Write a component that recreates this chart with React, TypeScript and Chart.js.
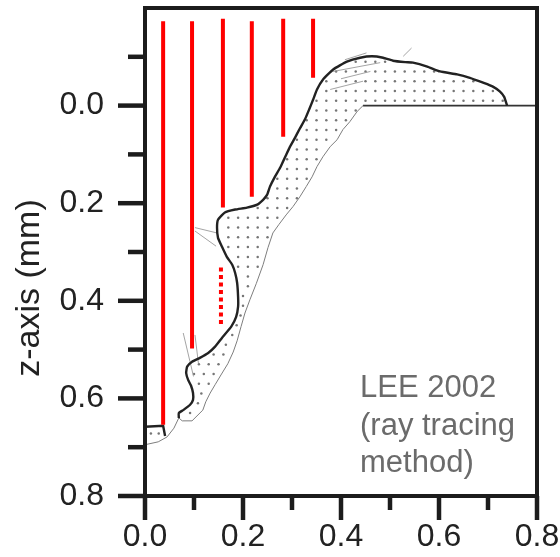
import { useEffect, useRef } from 'react';
import { Chart, registerables } from 'chart.js';

Chart.register(...registerables);

const FONT = '"Liberation Sans", Arial, Helvetica, sans-serif';

// ---- text ----
const xTickLabels = ['0.0', '0.2', '0.4', '0.6', '0.8'];
const yTickLabels = ['0.0', '0.2', '0.4', '0.6', '0.8'];
const yTitle = 'z-axis (mm)';
const noteLines = ['LEE 2002', '(ray tracing', 'method)'];

// ---- red rays (x in mm, z in mm) ----
const rayX = [0.037, 0.096, 0.159, 0.218, 0.282, 0.343];
const rayTop = [-0.173, -0.173, -0.178, -0.173, -0.178, -0.178];
const rayBottom = [0.654, 0.498, 0.209, 0.187, 0.064, -0.057];
const dottedRayX = [0.155];
const dottedRayTop = [0.332];
const dottedRayBottom = [0.449];

// ---- thick surface profile ----
const surfaceX = [
  0.069, 0.069, 0.078, 0.092, 0.098, 0.098, 0.094, 0.088, 0.084, 0.086, 0.096, 0.112,
  0.129, 0.143, 0.157, 0.176, 0.186, 0.19, 0.19, 0.188, 0.184, 0.178, 0.167, 0.157,
  0.149, 0.147, 0.149, 0.163, 0.184, 0.208, 0.229, 0.241, 0.249, 0.255, 0.265, 0.276,
  0.288, 0.296, 0.306, 0.316, 0.327, 0.335, 0.343, 0.351, 0.363, 0.384, 0.412, 0.439,
  0.463, 0.486, 0.506, 0.531, 0.547, 0.576, 0.602, 0.637, 0.663, 0.69, 0.71, 0.724,
  0.733, 0.737, 0.739,
];
const surfaceZ = [
  0.64, 0.63, 0.624, 0.613, 0.603, 0.589, 0.574, 0.562, 0.548, 0.535, 0.525, 0.517,
  0.507, 0.494, 0.476, 0.453, 0.433, 0.412, 0.392, 0.363, 0.343, 0.326, 0.31, 0.289,
  0.271, 0.25, 0.234, 0.219, 0.213, 0.209, 0.203, 0.193, 0.183, 0.166, 0.146, 0.127,
  0.101, 0.084, 0.066, 0.047, 0.027, 0.008, -0.012, -0.033, -0.053, -0.074, -0.09, -0.098,
  -0.101, -0.098, -0.092, -0.089, -0.088, -0.08, -0.07, -0.064, -0.057, -0.047, -0.039, -0.029,
  -0.018, -0.006, 0.0,
];

// ---- thin lower boundary ----
const lowerX = [
  0.445, 0.433, 0.418, 0.404, 0.392, 0.378, 0.363, 0.351, 0.341, 0.329, 0.316, 0.302,
  0.288, 0.273, 0.261, 0.251, 0.241, 0.227, 0.214, 0.204, 0.196, 0.188, 0.18, 0.169,
  0.155, 0.143, 0.133, 0.124, 0.118, 0.096, 0.076, 0.069, 0.059, 0.045, 0.027, 0.0,
];
const lowerZ = [
  0.0, 0.012, 0.033, 0.049, 0.07, 0.084, 0.105, 0.125, 0.146, 0.166, 0.187, 0.207,
  0.224, 0.244, 0.261, 0.291, 0.326, 0.365, 0.398, 0.425, 0.453, 0.482, 0.505, 0.529,
  0.552, 0.572, 0.589, 0.607, 0.624, 0.646, 0.646, 0.64, 0.661, 0.679, 0.689, 0.695,
];

// ---- small cap at the bottom-left ----
const capX = [0.0, 0.037, 0.041];
const capZ = [0.658, 0.656, 0.677];

// ---- flat substrate line (z = 0) ----
const baseX = [0.445, 0.8];
const baseZ = [0.0, 0.0];

// ---- velocity-field dots ----
const fieldZ = [
  -0.09, -0.07, -0.05, -0.03, -0.01, 0.01, 0.03, 0.05, 0.07, 0.09, 0.11, 0.13, 0.15,
  0.17, 0.19, 0.21, 0.23, 0.25, 0.27, 0.29, 0.31, 0.33, 0.35, 0.37, 0.39, 0.41, 0.43,
  0.45, 0.47, 0.49, 0.51, 0.53, 0.55, 0.57, 0.59, 0.61, 0.63, 0.672,
];
const fieldX = [
  [0.43, 0.45, 0.47, 0.49],
  [0.39, 0.41, 0.43, 0.45, 0.47, 0.49, 0.51, 0.53, 0.55, 0.57, 0.59],
  [0.37, 0.39, 0.41, 0.43, 0.45, 0.47, 0.49, 0.51, 0.53, 0.55, 0.57, 0.59, 0.61, 0.63, 0.65, 0.67],
  [0.37, 0.39, 0.41, 0.43, 0.45, 0.47, 0.49, 0.51, 0.53, 0.55, 0.57, 0.59, 0.61, 0.63, 0.65, 0.67, 0.69, 0.71],
  [0.35, 0.37, 0.39, 0.41, 0.43, 0.45, 0.47, 0.49, 0.51, 0.53, 0.55, 0.57, 0.59, 0.61, 0.63, 0.65, 0.67, 0.69, 0.71, 0.73],
  [0.35, 0.37, 0.39, 0.41, 0.43],
  [0.33, 0.35, 0.37, 0.39, 0.41],
  [0.33, 0.35, 0.37, 0.39],
  [0.31, 0.33, 0.35, 0.37],
  [0.31, 0.33, 0.35],
  [0.29, 0.31, 0.33, 0.35],
  [0.29, 0.31, 0.33],
  [0.27, 0.29, 0.31, 0.33],
  [0.27, 0.29, 0.31],
  [0.25, 0.27, 0.29, 0.31],
  [0.23, 0.25, 0.27, 0.29],
  [0.17, 0.19, 0.21, 0.23, 0.25, 0.27],
  [0.17, 0.19, 0.21, 0.23, 0.25],
  [0.17, 0.19, 0.21, 0.23, 0.25],
  [0.17, 0.19, 0.21, 0.23],
  [0.19, 0.21, 0.23],
  [0.19, 0.21, 0.23],
  [0.21],
  [0.21],
  [0.2],
  [0.2],
  [0.195],
  [0.187],
  [0.178],
  [0.165],
  [0.14, 0.16],
  [0.11, 0.13, 0.15],
  [0.1, 0.12, 0.14],
  [0.11, 0.13],
  [0.115],
  [0.108],
  [0.092],
  [0.012, 0.028],
];

// ---- longer field strokes ----
const strokeX1 = [0.102, 0.102, 0.078, 0.102, 0.408, 0.527, 0.384, 0.378, 0.4];
const strokeZ1 = [0.25, 0.257, 0.466, 0.47, -0.094, -0.101, -0.07, -0.033, -0.055];
const strokeX2 = [0.147, 0.145, 0.099, 0.109, 0.452, 0.544, 0.48, 0.445, 0.46];
const strokeZ2 = [0.261, 0.288, 0.555, 0.528, -0.108, -0.118, -0.088, -0.05, -0.07];

const tickLabel = (labels: string[]) => (value: number | string) => {
  const k = Math.round(Number(value) * 10);
  if (k >= 0 && k % 2 === 0 && labels[k / 2] !== undefined) return labels[k / 2];
  return '';
};

const framePlugin = {
  id: 'frameAndText',
  afterDatasetsDraw(chart: any) {
    const { ctx, chartArea: a, scales } = chart;
    ctx.save();
    ctx.strokeStyle = '#1c1c1c';
    ctx.lineWidth = 4;
    ctx.strokeRect(a.left, a.top, a.right - a.left, a.bottom - a.top);
    ctx.lineWidth = 4.5;
    ctx.lineCap = 'butt';
    scales.y.ticks.forEach((t: any) => {
      const k = Math.round(t.value * 10);
      if (k < -1) return;
      const p = scales.y.getPixelForValue(t.value);
      const len = k % 2 === 0 ? 27 : 17;
      ctx.beginPath();
      ctx.moveTo(a.left, p);
      ctx.lineTo(a.left - len, p);
      ctx.stroke();
    });
    scales.x.ticks.forEach((t: any) => {
      const k = Math.round(t.value * 10);
      const p = scales.x.getPixelForValue(t.value);
      const len = k % 2 === 0 ? 24 : 14;
      ctx.beginPath();
      ctx.moveTo(p, a.bottom);
      ctx.lineTo(p, a.bottom + len);
      ctx.stroke();
    });
    ctx.restore();
  },
  afterDraw(chart: any) {
    const { ctx } = chart;
    ctx.save();
    ctx.fillStyle = '#222222';
    ctx.font = `34px ${FONT}`;
    ctx.translate(30, 288);
    ctx.rotate(-Math.PI / 2);
    ctx.textAlign = 'center';
    ctx.textBaseline = 'middle';
    ctx.fillText(yTitle, 0, 0);
    ctx.restore();

    ctx.save();
    ctx.fillStyle = '#6b6b6b';
    ctx.font = `31px ${FONT}`;
    ctx.textAlign = 'left';
    ctx.textBaseline = 'alphabetic';
    noteLines.forEach((line, i) => ctx.fillText(line, 360, 397 + i * 37.5));
    ctx.restore();
  },
};

const line = (xs: number[], zs: number[], color: string, width: number, extra: any = {}) => ({
  data: xs.map((x, i) => ({ x, y: zs[i] })),
  showLine: true,
  borderColor: color,
  backgroundColor: color,
  borderWidth: width,
  pointRadius: 0,
  pointHoverRadius: 0,
  ...extra,
});

const noPad = (s: any) => {
  s.paddingTop = 0;
  s.paddingBottom = 0;
  s.paddingLeft = 0;
  s.paddingRight = 0;
};

export default function App() {
  const ref = useRef<HTMLCanvasElement | null>(null);

  useEffect(() => {
    if (!ref.current) return;
    const datasets: any[] = [];
    rayX.forEach((x, i) => datasets.push(line([x, x], [rayTop[i], rayBottom[i]], '#ff0000', 4)));
    dottedRayX.forEach((x, i) =>
      datasets.push(line([x, x], [dottedRayTop[i], dottedRayBottom[i]], '#ff0000', 4, { borderDash: [4, 3.5] }))
    );
    datasets.push(line(surfaceX, surfaceZ, '#222222', 2.4, { tension: 0.15 }));
    datasets.push(line(capX, capZ, '#222222', 2.4));
    datasets.push(line(baseX, baseZ, '#333333', 1.6));
    datasets.push(line(lowerX, lowerZ, '#7e7e7e', 1));
    strokeX1.forEach((x, i) =>
      datasets.push(line([x, strokeX2[i]], [strokeZ1[i], strokeZ2[i]], '#9a9a9a', 0.9))
    );
    const dots: { x: number; y: number }[] = [];
    fieldZ.forEach((z, r) => fieldX[r].forEach((x) => dots.push({ x, y: z })));
    datasets.push({
      data: dots,
      showLine: false,
      pointRadius: 1.25,
      pointHoverRadius: 0,
      pointBorderWidth: 0,
      backgroundColor: '#767676',
      borderColor: '#767676',
    });

    const chart = new Chart(ref.current, {
      type: 'scatter',
      data: { datasets },
      plugins: [framePlugin],
      options: {
        animation: false,
        responsive: false,
        events: [],
        layout: { padding: { left: 0, right: 23, top: 8, bottom: 0 } },
        plugins: { legend: { display: false }, tooltip: { enabled: false } },
        scales: {
          x: {
            type: 'linear',
            min: 0,
            max: 0.8,
            afterFit: (s: any) => {
              s.height = 61;
              noPad(s);
            },
            grid: { display: false, drawTicks: false },
            border: { display: false },
            ticks: {
              stepSize: 0.1,
              autoSkip: false,
              maxRotation: 0,
              padding: 22,
              color: '#222222',
              font: { family: FONT, size: 32 },
              callback: tickLabel(xTickLabels),
            },
          },
          y: {
            type: 'linear',
            reverse: true,
            min: -0.2,
            max: 0.8,
            afterFit: (s: any) => {
              s.width = 145;
              noPad(s);
            },
            grid: { display: false, drawTicks: false },
            border: { display: false },
            ticks: {
              stepSize: 0.1,
              autoSkip: false,
              padding: 41,
              color: '#222222',
              font: { family: FONT, size: 32 },
              callback: tickLabel(yTickLabels),
            },
          },
        },
      },
    });
    return () => chart.destroy();
  }, []);

  return (
    <div style={{ position: 'fixed', left: 0, top: 0, width: 560, height: 557, background: '#fff' }}>
      <canvas ref={ref} width={560} height={557} style={{ display: 'block' }} />
    </div>
  );
}
